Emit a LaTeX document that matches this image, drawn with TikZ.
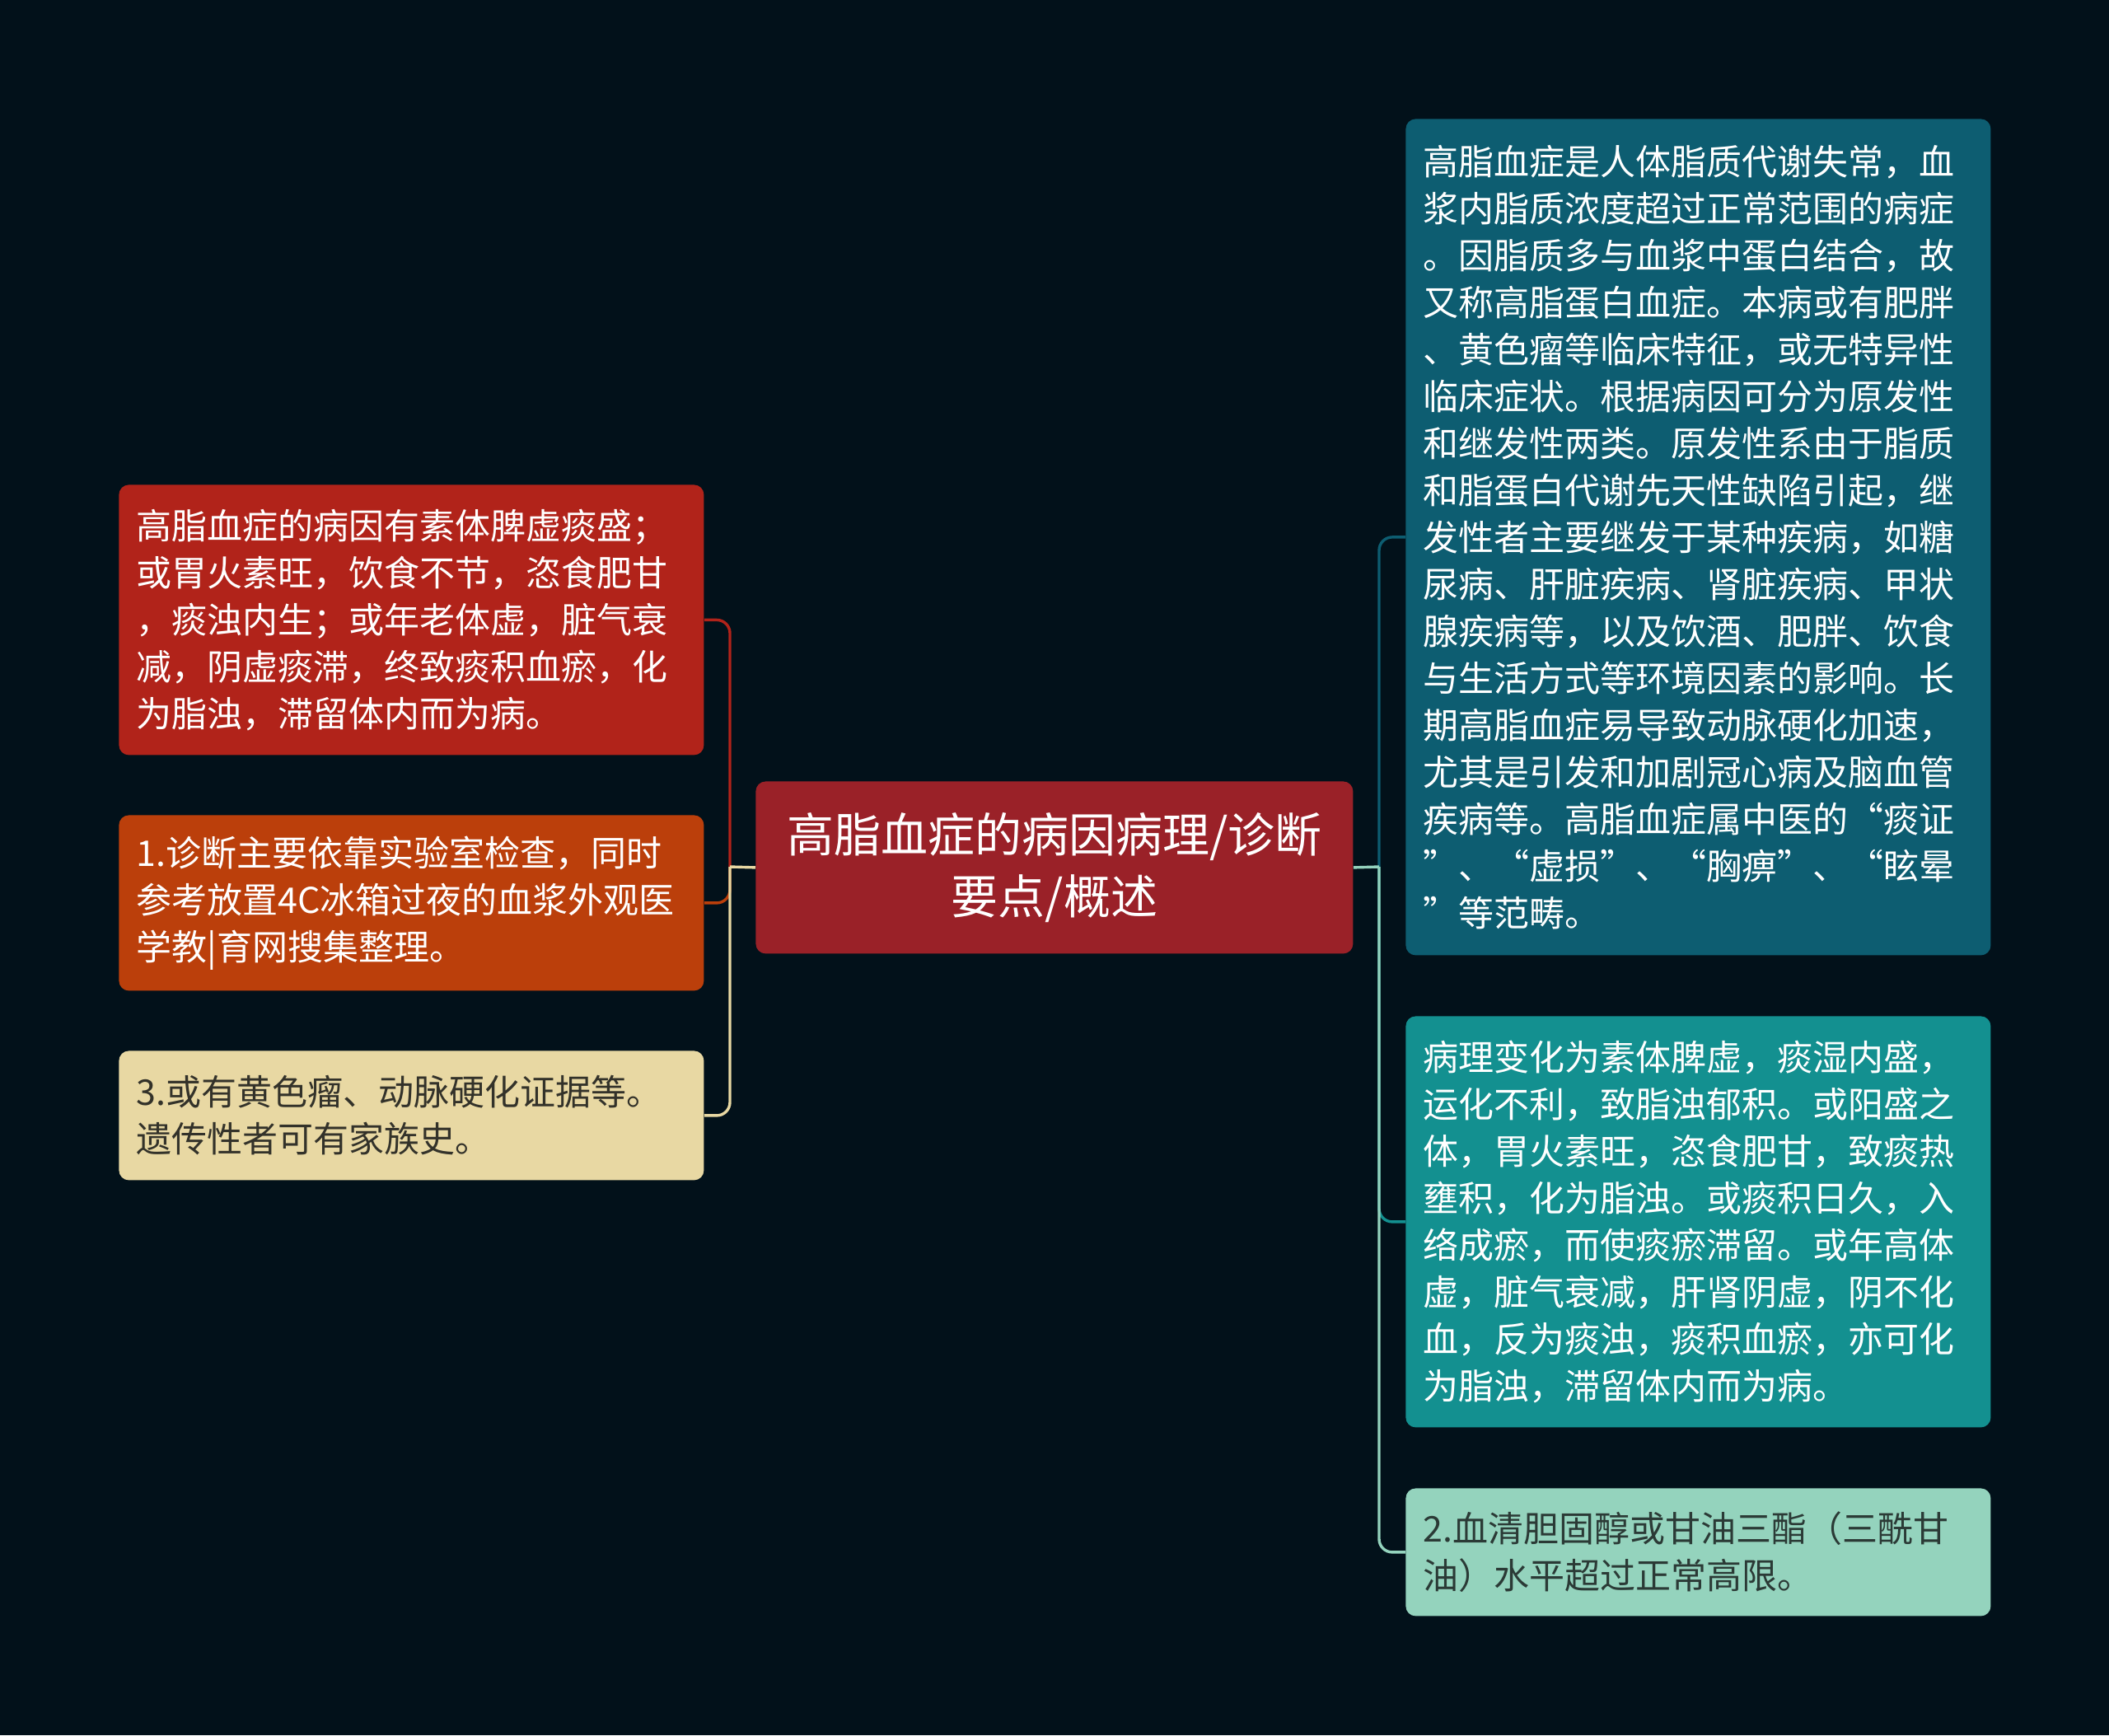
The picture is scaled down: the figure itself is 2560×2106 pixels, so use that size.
\documentclass[tikz,border=0pt]{standalone}
\usepackage{fontspec}
\newfontfamily\cjk{Noto Sans CJK SC}
\definecolor{bgc}{HTML}{02111A}
\definecolor{centerc}{HTML}{9A2128}
\definecolor{redc}{HTML}{B1231A}
\definecolor{orangec}{HTML}{BB3F0B}
\definecolor{beigec}{HTML}{E8D8A3}
\definecolor{darktealc}{HTML}{0D5D71}
\definecolor{tealc}{HTML}{139090}
\definecolor{greenc}{HTML}{94D3BD}
\definecolor{darktext}{HTML}{33322A}
\definecolor{greentext}{HTML}{2B3A36}
\tikzset{
  leafbox/.style={rounded corners=6pt, inner xsep=10.5pt, inner ysep=0pt,
    anchor=north west, align=left, text width=334pt, minimum width=355pt,
    font=\cjk\fontsize{21.5pt}{28.5pt}\selectfont},
  centerbox/.style={rounded corners=6pt, inner sep=0pt, anchor=north west,
    align=center, text width=345pt, minimum width=362.5pt, minimum height=104.5pt,
    font=\cjk\fontsize{28.5pt}{37.5pt}\selectfont, text=white, fill=centerc},
  conn/.style={line width=1.7pt, rounded corners=8pt}
}
\begin{document}
\begin{tikzpicture}[x=0.5pt,y=-0.5pt]
\fill[bgc] (0,0) rectangle (2560,2106);
\useasboundingbox (0,0) rectangle (2560,2106);

% center
\node[centerbox] (c) at (917,948) {高脂血症的病因病理/诊断\\要点/概述};

% left
\node[leafbox, fill=redc, text=white, minimum height=164pt] (l1) at (144,588)
 {高脂血症的病因有素体脾虚痰盛；\\或胃火素旺，饮食不节，恣食肥甘\\，痰浊内生；或年老体虚，脏气衰\\减，阴虚痰滞，终致痰积血瘀，化\\为脂浊，滞留体内而为病。};
\node[leafbox, fill=orangec, text=white, minimum height=106.5pt] (l2) at (144,989)
 {1.诊断主要依靠实验室检查，同时\\参考放置4C冰箱过夜的血浆外观医\\学教|育网搜集整理。};
\node[leafbox, fill=beigec, text=darktext, minimum height=78.5pt] (l3) at (144,1275)
 {3.或有黄色瘤、动脉硬化证据等。\\遗传性者可有家族史。};

% right
\node[leafbox, fill=darktealc, text=white, minimum height=507.5pt] (r1) at (1706,144)
 {高脂血症是人体脂质代谢失常，血\\浆内脂质浓度超过正常范围的病症\\。因脂质多与血浆中蛋白结合，故\\又称高脂蛋白血症。本病或有肥胖\\、黄色瘤等临床特征，或无特异性\\临床症状。根据病因可分为原发性\\和继发性两类。原发性系由于脂质\\和脂蛋白代谢先天性缺陷引起，继\\发性者主要继发于某种疾病，如糖\\尿病、肝脏疾病、肾脏疾病、甲状\\腺疾病等，以及饮酒、肥胖、饮食\\与生活方式等环境因素的影响。长\\期高脂血症易导致动脉硬化加速，\\尤其是引发和加剧冠心病及脑血管\\疾病等。高脂血症属中医的“痰证\\\makebox[322.5pt][l]{”\hfill 、\hfill “虚损”\hfill 、\hfill “胸痹”\hfill 、\hfill “眩晕}\\”等范畴。};
\node[leafbox, fill=tealc, text=white, minimum height=249.5pt] (r2) at (1706,1233)
 {病理变化为素体脾虚，痰湿内盛，\\运化不利，致脂浊郁积。或阳盛之\\体，胃火素旺，恣食肥甘，致痰热\\壅积，化为脂浊。或痰积日久，入\\络成瘀，而使痰瘀滞留。或年高体\\虚，脏气衰减，肝肾阴虚，阴不化\\血，反为痰浊，痰积血瘀，亦可化\\为脂浊，滞留体内而为病。};
\node[leafbox, fill=greenc, text=greentext, minimum height=77.5pt] (r3) at (1706,1806)
 {2.血清胆固醇或甘油三酯（三酰甘\\油）水平超过正常高限。};

% connectors
\coordinate (lt) at (886,1052);
\coordinate (rt) at (1674,1052);
\draw[conn, redc] (lt) |- (l1.east);
\draw[conn, orangec] (lt) |- (l2.east);
\draw[conn, beigec] (lt) |- (l3.east);
\draw[conn, beigec] (c.west) -- (lt);
\draw[conn, darktealc] (rt) |- (r1.west);
\draw[conn, tealc] (rt) |- (r2.west);
\draw[conn, greenc] (rt) |- (r3.west);
\draw[conn, greenc] (c.east) -- (rt);
\end{tikzpicture}
\end{document}
